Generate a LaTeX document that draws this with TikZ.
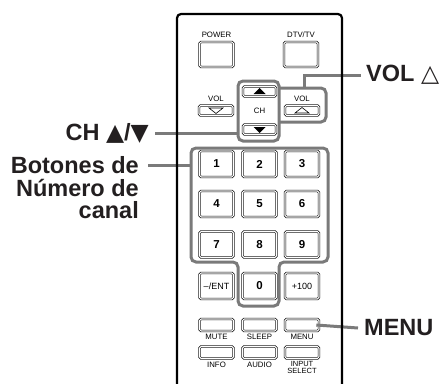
\documentclass[tikz,border=0pt]{standalone}
\usepackage{fontspec}
\setmainfont{Liberation Sans}
\newfontfamily\symfont{DejaVu Sans}
\usepackage{tikz}
\usetikzlibrary{positioning}
\usepackage{xcolor}
\definecolor{groupgray}{RGB}{122,122,122}
\definecolor{labelblack}{RGB}{35,31,32}

\begin{document}
\begin{tikzpicture}[
    x=1pt, y=-1pt,
    key/.style={draw=black, double, double distance=1.1pt, line width=0.6pt,
                rounded corners=1.6pt, inner sep=0pt,
                minimum width=34pt, minimum height=26pt},
    numkey/.style={key, font=\bfseries\fontsize{11.5}{11.5}\selectfont},
    textkey/.style={key, font=\fontsize{9}{9}\selectfont},
    slimkey/.style={key, minimum height=10pt},
    flatkey/.style={key, minimum height=12pt},
    keylbl/.style={inner sep=0pt, align=center,
                   font=\fontsize{7.8}{7.8}\selectfont},
    group/.style={draw=groupgray, line width=3pt, rounded corners=5pt},
    callout/.style={draw=groupgray, line width=3pt},
    biglbl/.style={inner sep=0pt, text=labelblack,
                   font=\bfseries\fontsize{23.5}{22.8}\selectfont},
    tri/.style={draw=black, line width=0.6pt, line join=miter}
]
\useasboundingbox (0,0) rectangle (444,383);

% top keys
\node[key, minimum height=25pt] (power) at (216.5,54.5) {};
\node[keylbl, above=3.5pt of power] {POWER};
\node[key, minimum height=25pt] (dtvtv) at (301,54.5) {};
\node[keylbl, above=3.5pt of dtvtv] {DTV/TV};

% volume and channel keys
\node[slimkey] (voldn) at (216,110.5) {};
\node[keylbl, above=3pt of voldn] {VOL};
\draw[tri] ([shift={(-7,-2.5)}]voldn.center) -- ++(14,0) -- ++(-7,5.5) -- cycle;
\node[slimkey] (volup) at (302,110.5) {};
\node[keylbl, above=3pt of volup] {VOL};
\draw[tri] ([shift={(-7,2.5)}]volup.center) -- ++(14,0) -- ++(-7,-5.5) -- cycle;
\node[slimkey, minimum width=33pt] (chup) at (259.5,91.5) {};
\fill ([shift={(-6,2.5)}]chup.center) -- ++(12,0) -- ++(-6,-6) -- cycle;
\node[slimkey, minimum width=33pt] (chdn) at (259.5,129.5) {};
\fill ([shift={(-6,-2.5)}]chdn.center) -- ++(12,0) -- ++(-6,6) -- cycle;
\node[keylbl] (chtxt) at (259.5,110.5) {CH};

% channel number keys
\node[numkey] (k1) at (216.5,164) {1};
\node[numkey] (k2) at (259.5,164) {2};
\node[numkey] (k3) at (302,164) {3};
\node[numkey] (k4) at (216.5,204) {4};
\node[numkey] (k5) at (259.5,204) {5};
\node[numkey] (k6) at (302,204) {6};
\node[numkey] (k7) at (216.5,244.5) {7};
\node[numkey] (k8) at (259.5,244.5) {8};
\node[numkey] (k9) at (302,244.5) {9};
\node[textkey] (kent) at (216.5,286) {–/ENT};
\node[numkey] (k0) at (259.5,286) {0};
\node[textkey] (k100) at (302,286) {+100};

% bottom keys
\node[flatkey] (mute) at (216.5,325) {};
\node[keylbl, below=3pt of mute] {MUTE};
\node[flatkey] (sleep) at (259.5,325) {};
\node[keylbl, below=3pt of sleep] {SLEEP};
\node[flatkey] (menubtn) at (302,325) {};
\node[keylbl, below=3pt of menubtn] {MENU};
\node[flatkey] (info) at (216.5,352.5) {};
\node[keylbl, below=3pt of info] {INFO};
\node[flatkey] (audio) at (259.5,352.5) {};
\node[keylbl, below=3pt of audio] {AUDIO};
\node[flatkey] (input) at (302,352.5) {};
\node[keylbl, below=2.5pt of input, font=\fontsize{7.5}{6.8}\selectfont] {INPUT\\SELECT};

% highlight groups
\node[group, minimum width=41pt, minimum height=60pt, inner sep=0pt] (chgrp) at (258.5,111) {};
\draw[group] (279,88) -- (326,88) -- (326,122) -- (279,122);
\coordinate (volin) at (304,88);
\draw[group] (191,148) -- (328,148) -- (328,262) -- (279,262) -- (279,306)
    -- (238,306) -- (238,262) -- (191,262) -- cycle;
\coordinate (numin) at (191,165);
\coordinate (menuin) at ([xshift=-3pt]menubtn.east);

% labels
\node[biglbl, anchor=west] (vollbl) at (366,75) {VOL {\mdseries\symfont △}};
\node[biglbl, anchor=east] (chlbl) at (149,133) {CH {\symfont ▲}/{\symfont ▼}};
\node[biglbl, anchor=north east, align=right] (chanlbl) at (139,156)
    {Botones de\\Número de\\canal};
\node[biglbl, anchor=west] (menulbl) at (364,328) {MENU};

\draw[callout] (volin) |- ([xshift=-5pt]vollbl.west);
\draw[callout] ([xshift=6pt]chlbl.east) -- (chlbl.east -| chgrp.west);
\draw[callout] (numin) -- ([xshift=9pt]chanlbl.east |- numin);
\draw[callout] (menuin) -- ([xshift=-6pt]menulbl.west);

% remote body
\draw[line width=2.2pt, rounded corners=4pt] (177,384) -- (177,14) -- (342,14) -- (342,384);
\end{tikzpicture}
\end{document}
